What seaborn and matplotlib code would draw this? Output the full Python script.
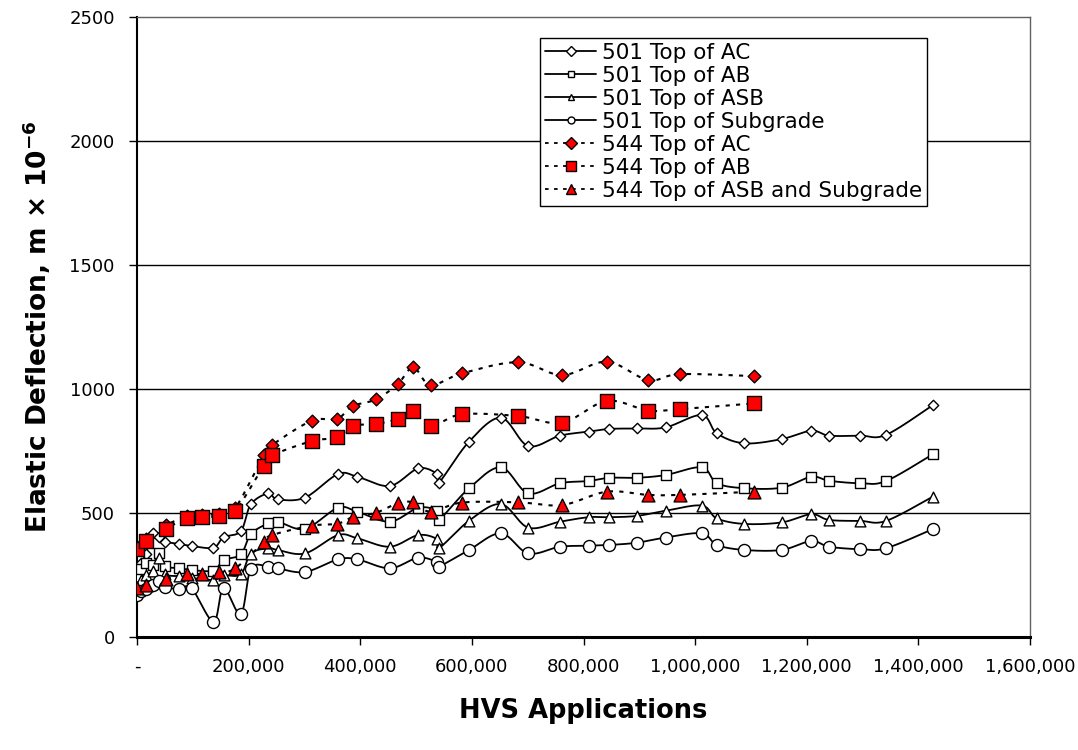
import numpy as np
import pandas as pd
import matplotlib
matplotlib.use("Agg")
import matplotlib.pyplot as plt
from matplotlib.lines import Line2D
from matplotlib.ticker import FuncFormatter
import seaborn as sns

# ---------------- data ----------------
x501 = [0, 8000, 16000, 28000, 40000, 50000, 76000, 98000, 137000, 155000, 186000, 204000,
        235000, 252000, 301000, 360000, 395000, 453000, 504000, 538000, 541000, 595000,
        652000, 701000, 758000, 809000, 846000, 895000, 947000, 1012000, 1039000, 1088000,
        1155000, 1208000, 1240000, 1296000, 1342000, 1426000]
ac501 = [258, 300, 335, 420, 405, 385, 375, 367, 360, 402, 427, 535, 579, 555, 562, 657, 646,
         609, 680, 657, 622, 788, 884, 770, 812, 828, 839, 841, 845, 895, 821, 781, 798, 832,
         812, 812, 815, 935]
ab501 = [240, 275, 300, 290, 340, 286, 278, 270, 268, 310, 333, 415, 458, 465, 436, 521, 505,
         465, 521, 509, 472, 600, 684, 579, 620, 629, 642, 642, 653, 684, 620, 600, 602, 646,
         630, 620, 629, 737]
asb501 = [200, 230, 250, 265, 320, 255, 245, 238, 230, 248, 253, 336, 358, 351, 337, 411, 398,
          364, 411, 394, 358, 469, 536, 441, 465, 483, 483, 488, 509, 530, 478, 456, 462, 495,
          472, 468, 468, 566]
sg501 = [170, 185, 195, 210, 225, 200, 195, 196, 62, 197, 92, 275, 284, 277, 262, 313, 313,
         277, 320, 301, 284, 351, 418, 337, 364, 368, 371, 380, 401, 418, 371, 351, 351, 387,
         364, 354, 358, 435]

x544 = [0, 15600, 51400, 90000, 116000, 147000, 176000, 227000, 242000, 313000, 358000, 386500,
        428000, 467000, 495000, 526000, 582000, 683000, 761600, 841700, 916000, 973000, 1105700]
ac544 = [362, 395, 450, 487, 492, 497, 520, 732, 774, 872, 879, 931, 958, 1019, 1087, 1016,
         1063, 1108, 1056, 1110, 1036, 1060, 1052]
ab544 = [355, 388, 437, 478, 482, 488, 509, 690, 732, 790, 805, 851, 859, 879, 911, 851, 898,
         891, 864, 952, 913, 919, 942]
asb544 = [196, 210, 234, 254, 254, 261, 277, 382, 411, 449, 456, 483, 501, 539, 543, 505, 542,
          543, 532, 586, 573, 573, 586]

labels = ["501 Top of AC", "501 Top of AB", "501 Top of ASB", "501 Top of Subgrade",
          "544 Top of AC", "544 Top of AB", "544 Top of ASB and Subgrade"]
x_ticks = [0, 200000, 400000, 600000, 800000, 1000000, 1200000, 1400000, 1600000]
y_ticks = [0, 500, 1000, 1500, 2000, 2500]


def smooth(xs, ys, n=20):
    """Excel-style smoothed line (Catmull-Rom Bezier) through the points."""
    P = np.column_stack([xs, ys]).astype(float)
    m = len(P)
    out = []
    for i in range(m - 1):
        p0 = P[i - 1] if i > 0 else P[i]
        p1 = P[i]
        p2 = P[i + 1]
        p3 = P[i + 2] if i + 2 < m else P[i + 1]
        c1 = p1 + (p2 - p0) / 6.0
        c2 = p2 - (p3 - p1) / 6.0
        t = np.linspace(0, 1, n, endpoint=(i == m - 2))[:, None]
        seg = ((1 - t) ** 3) * p1 + 3 * ((1 - t) ** 2) * t * c1 + 3 * (1 - t) * t ** 2 * c2 + t ** 3 * p2
        out.append(seg)
    out = np.vstack(out)
    return out[:, 0], out[:, 1]


sns.set_theme(style="white")
plt.rcParams['font.family'] = ['DejaVu Sans']
plt.rcParams['text.color'] = 'black'
plt.rcParams['axes.labelcolor'] = 'black'

fig = plt.figure(figsize=(10.78, 7.5), dpi=100)
ax = fig.add_axes([137 / 1078, 1 - 637 / 750, (1030 - 137) / 1078, (637 - 17) / 750])

series = [
    (x501, ac501, 'D', 'white', '-', 28),
    (x501, ab501, 's', 'white', '-', 55),
    (x501, asb501, '^', 'white', '-', 60),
    (x501, sg501, 'o', 'white', '-', 75),
    (x544, ac544, 'D', 'red', (0, (2, 3)), 42),
    (x544, ab544, 's', 'red', (0, (2, 3)), 95),
    (x544, asb544, '^', 'red', (0, (2, 3)), 85),
]

for i, (xs, ys, mk, fc, ls, sz) in enumerate(series):
    sx, sy = smooth(xs, ys)
    df = pd.DataFrame({"x": sx, "y": sy})
    sns.lineplot(data=df, x="x", y="y", sort=False, estimator=None, color="black",
                 linewidth=1.3 if fc == 'white' else 1.5, linestyle=ls, ax=ax, zorder=2 + i)
    dfp = pd.DataFrame({"x": xs, "y": ys})
    sns.scatterplot(data=dfp, x="x", y="y", marker=mk, s=sz, facecolor=fc, edgecolor="black",
                    linewidth=1.0, ax=ax, zorder=10 + i, legend=False)

ax.set_xlim(0, 1600000)
ax.set_ylim(0, 2500)
ax.set_xticks(x_ticks)
ax.set_yticks(y_ticks)
ax.xaxis.set_major_formatter(FuncFormatter(lambda v, p: "-" if v == 0 else f"{int(v):,}"))
ax.yaxis.set_major_formatter(FuncFormatter(lambda v, p: f"{int(v)}"))
ax.tick_params(axis='both', which='major', direction='out', length=6, width=1,
               color='black', labelsize=13, labelcolor='black', bottom=True, left=True)
ax.tick_params(axis='x', pad=9)
ax.tick_params(axis='y', pad=10)

ax.grid(False)
for yv in y_ticks[1:-1]:
    ax.axhline(yv, color='black', linewidth=1.0, zorder=1)

for side in ['top', 'right']:
    ax.spines[side].set_color('#606060')
    ax.spines[side].set_linewidth(1.0)
ax.spines['left'].set_color('black')
ax.spines['left'].set_linewidth(1.5)
ax.spines['bottom'].set_color('black')
ax.spines['bottom'].set_linewidth(2.2)

ax.set_xlabel("HVS Applications", fontsize=18.5, fontweight='bold', labelpad=16, color='black')
ax.set_ylabel(r"Elastic Deflection, m × 10$^{\mathbf{-6}}$", fontsize=19, fontweight='bold',
              labelpad=12, color='black')

handles = []
for (xs, ys, mk, fc, ls, sz), lab in zip(series, labels):
    handles.append(Line2D([], [], color='black', linestyle=ls, linewidth=1.3,
                          marker=mk, markersize=5 if fc == 'white' else 6.5,
                          markerfacecolor=fc, markeredgecolor='black', markeredgewidth=1.0,
                          label=lab))
leg = ax.legend(handles=handles, loc='upper left', bbox_to_anchor=(540 / 1078, 1 - 38 / 750),
                bbox_transform=fig.transFigure, borderaxespad=0, frameon=True, fancybox=False,
                edgecolor='black', facecolor='white', framealpha=1, fontsize=15.5,
                handlelength=2.4, handletextpad=0.25, labelspacing=0.14, borderpad=0.22,
                labelcolor='black')
leg.get_frame().set_linewidth(1.0)
leg.set_zorder(30)

fig.savefig("out.png", dpi=100)
